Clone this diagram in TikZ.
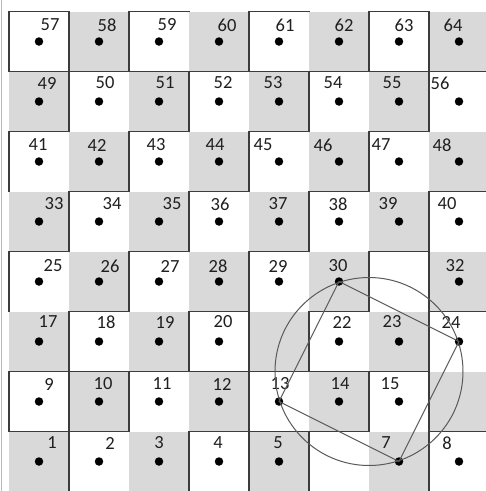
\documentclass[tikz,border=0pt]{standalone}
\usepackage{fontspec}
\setmainfont{Carlito}
\definecolor{cellgray}{RGB}{217,217,217}
\definecolor{wallcol}{RGB}{60,60,60}
\definecolor{circcol}{RGB}{90,90,90}
\definecolor{edgeblue}{RGB}{160,190,228}
\begin{document}
\begin{tikzpicture}[x=1pt,y=-1pt,
  wall/.style={draw=wallcol,line width=1.8pt,line cap=rect},
  dot/.style={circle,fill=black,inner sep=0pt,minimum size=8.5pt},
  num/.style={inner sep=0pt,text=black!88,font=\fontsize{18.5}{21}\selectfont},
  geo/.style={draw=circcol,line width=1pt}]
\useasboundingbox (0,0) rectangle (486,491);
\fill[white] (0,0) rectangle (486,491);
% checkerboard
\foreach \r in {0,...,7}{\foreach \c in {0,...,7}{
  \pgfmathtruncatemacro{\p}{mod(\c+7-\r,2)}
  \ifnum\p=0 \fill[cellgray] ({9+60*\c},{11.5+60*\r}) rectangle ++(60,60);\fi
}}
\draw[edgeblue,line width=1pt] (1,0) -- (1,491);
% vertical walls i/j
\foreach \i/\j in {0/0,1/0,2/0,4/0,6/0,7/0,
  1/1,3/1,5/1,7/1,
  0/2,2/2,4/2,6/2,
  1/3,3/3,5/3,7/3,
  0/4,2/4,4/4,6/4,7/4,
  1/5,3/5,4/5,5/5,7/5,
  0/6,1/6,2/6,4/6,6/6,7/6,
  1/7,3/7,4/7,5/7,7/7}
  \draw[wall] ({9+60*\i},{11.5+60*\j}) -- ({9+60*\i},{71.5+60*\j});
% horizontal walls i/j
\foreach \i/\j in {0/0,2/0,4/0,6/0,
  0/1,1/1,2/1,3/1,4/1,5/1,6/1,7/1,
  0/2,2/2,4/2,6/2,
  1/3,3/3,5/3,7/3,
  0/4,2/4,4/4,6/4,
  1/5,3/5,5/5,7/5,
  0/6,1/6,2/6,3/6,4/6,5/6,6/6,
  0/7,1/7,3/7,4/7,5/7,7/7}
  \draw[wall] ({9+60*\i},{11.5+60*\j}) -- ({69+60*\i},{11.5+60*\j});
% dots and numbers: n/label-x, per row
\foreach \r/\ly/\lst in {
  0/25/{57/50,58/107,59/167,60/227,61/285,62/344,63/404,64/453},
  1/83/{49/47,50/105,51/165,52/223,53/273,54/333,55/392,56/440},
  2/145/{41/38,42/97,43/156,44/215,45/263,46/323,47/381,48/442},
  3/204/{33/54,34/112,35/172,36/220,37/278,38/338,39/388,40/447},
  4/266/{25/53,26/110,27/170,28/218,29/278,30/338,32/455},
  5/322/{17/48,18/106,19/165,20/223,22/342,23/392,24/451},
  6/384/{9/49,10/103,11/162,12/222,13/280,14/340,15/390},
  7/443/{1/52,2/110,3/159,4/218,5/278,7/386,8/447}}{
  \foreach \n/\lx in \lst {
    \pgfmathtruncatemacro{\c}{mod(\n-1,8)}
    \node[dot] (d\n) at ({39+60*\c},{41.5+60*\r}) {};
    \node[num] (l\n) at (\lx,\ly) {\n};
  }
}
% circle and inscribed square
\coordinate (cc) at (369,371.5);
\draw[geo] (cc) circle[radius=94];
\draw[geo] (d30.center) -- (d24.center) -- (d7.center) -- (d13.center) -- cycle;
\end{tikzpicture}
\end{document}
